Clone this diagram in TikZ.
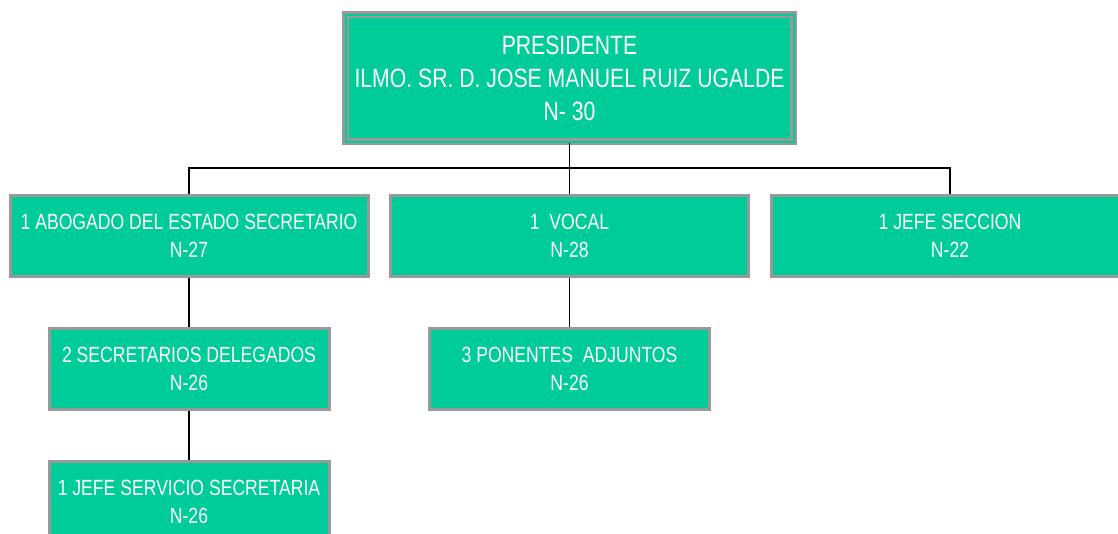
\documentclass[tikz,border=0pt]{standalone}
\usepackage{fontspec}
\setmainfont{Liberation Sans}[FakeStretch=0.8]
\usetikzlibrary{positioning}
\definecolor{postgreen}{HTML}{00CC99}
\definecolor{postgray}{HTML}{999999}
\tikzset{
  post/.style={rectangle,draw=postgray,line width=3pt,fill=postgreen,text=white,
    align=center,inner sep=0pt,minimum width=#1,minimum height=81pt,
    font=\fontsize{22}{28}\selectfont},
  post/.default=358pt,
  headpost/.style={rectangle,draw=postgray,double=postgreen,double distance=2pt,
    line width=2.5pt,fill=postgreen,text=white,align=center,inner sep=0pt,
    minimum width=448pt,minimum height=127pt,font=\fontsize{26.5}{33}\selectfont},
  link/.style={line width=1.4pt,black},
}
\begin{document}
\begin{tikzpicture}[x=1pt,y=-1pt]
  \useasboundingbox (0,0) rectangle (1118,533);
  \clip (0,0) rectangle (1118,533);
  \node[headpost] (pres) at (569.5,78)
    {PRESIDENTE\\ILMO. SR. D. JOSE MANUEL RUIZ UGALDE\\N- 30};
  % first level
  \node[post] (abog) at (189,236) {1 ABOGADO DEL ESTADO SECRETARIO\\N-27};
  \node[post] (vocal) at (569.5,236) {1\ \ VOCAL\\N-28};
  \node[post] (jefe) at (950,236) {1 JEFE SECCION\\N-22};
  % second level
  \node[post=280pt] (secr) at (189,368.5) {2 SECRETARIOS DELEGADOS\\N-26};
  \node[post=280pt] (jsrv) at (189,501.5) {1 JEFE SERVICIO SECRETARIA\\N-26};
  \node[post=280pt] (pon) at (569.5,368.5) {3 PONENTES\ \ ADJUNTOS\\N-26};
  \coordinate (bus) at (569.5,168);
  \draw[link] (pres.south) -- (pres.south |- bus);
  \foreach \n in {abog,vocal,jefe}
    \draw[link] (\n.north) |- (bus);
  \draw[link] (abog.south) -- (secr.north);
  \draw[link] (secr.south) -- (jsrv.north);
  \draw[link] (vocal.south) -- (pon.north);
\end{tikzpicture}
\end{document}
